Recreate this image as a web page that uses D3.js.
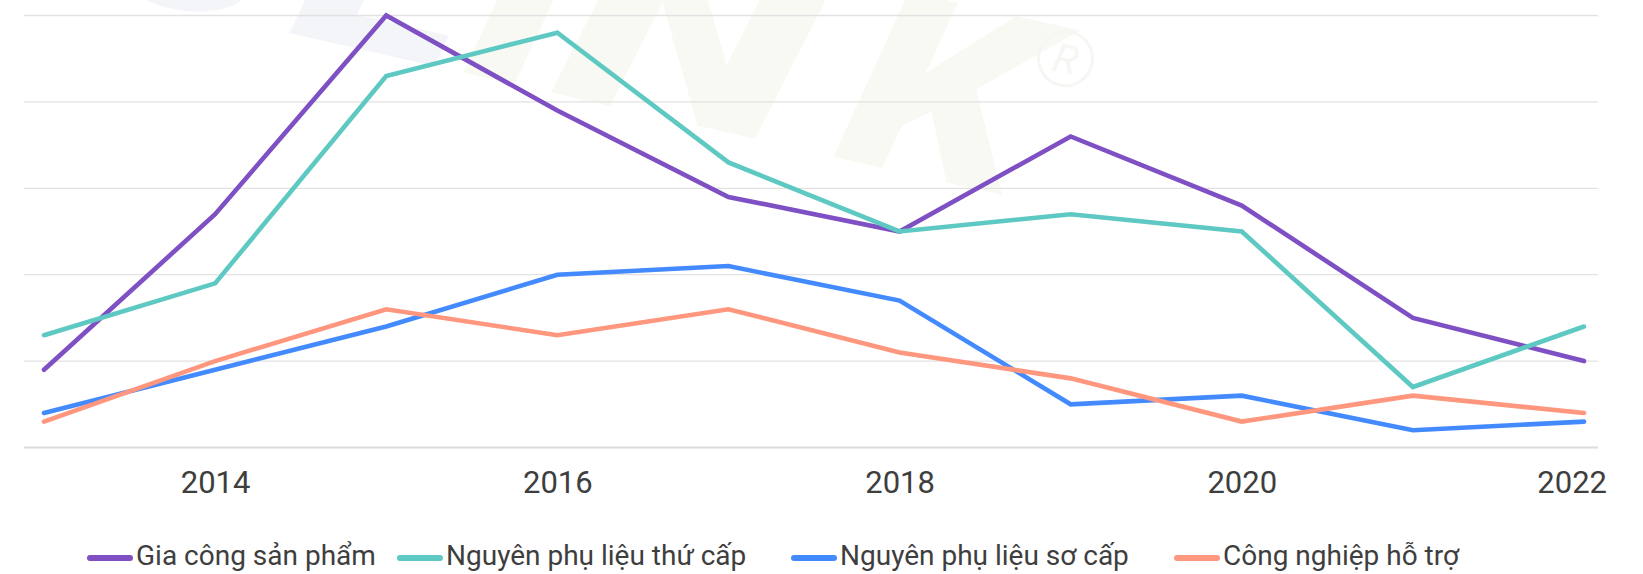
<!DOCTYPE html>
<html>
<head>
<meta charset="utf-8">
<script src="https://cdn.jsdelivr.net/npm/d3@7"></script>
<style>
  html, body { margin: 0; padding: 0; background: #ffffff; }
  svg { display: block; }
</style>
</head>
<body>
<svg id="chart" width="1643" height="574"></svg>
<script>
// Years on the x axis
const years = [2013, 2014, 2015, 2016, 2017, 2018, 2019, 2020, 2021, 2022];

// Series values
const giaCongSanPham   = [9, 27, 50, 39, 29, 25, 36, 28, 15, 10];
const nplThuCap        = [13, 19, 43, 48, 33, 25, 27, 25, 7, 14];
const nplSoCap         = [4, 9, 14, 20, 21, 17, 5, 6, 2, 3];
const congNghiepHoTro  = [3, 10, 16, 13, 16, 11, 8, 3, 6, 4];

const seriesNames  = ["Gia công sản phẩm", "Nguyên phụ liệu thứ cấp", "Nguyên phụ liệu sơ cấp", "Công nghiệp hỗ trợ"];
const seriesValues = [giaCongSanPham, nplThuCap, nplSoCap, congNghiepHoTro];
const seriesColors = ["#7e50c3", "#5ec9c2", "#448aff", "#ff967e"];

// Axis labels and gridline levels
const tickYears  = [2014, 2016, 2018, 2020, 2022];
const gridLevels = [0, 10, 20, 30, 40, 50];

// Layout
const plot = { left: 24, right: 1598, top: 15.5, bottom: 447.5 };
const firstX = 44, lastX = 1584;
const labelBaseline = 493;
const labelRightLimit = 1607;
const legendStarts = [87, 397, 791, 1174];
const legendY = 558, legendTextBaseline = 565;
const textColor = "#3e3e3e";
const fontFamily = "Roboto, 'Noto Sans', sans-serif";

const svg = d3.select("#chart");

// Faint brand watermark behind the plot
const wm = svg.append("g")
  .attr("transform", "translate(289,33) rotate(12.8)")
  .style("font-family", "Roboto, sans-serif")
  .style("font-weight", 900)
  .style("font-style", "italic")
  .style("font-size", "250px");
wm.append("text").attr("x", -200).attr("y", 0).attr("fill", "#f4f5f8").text("G");
wm.append("text").attr("x", 0).attr("y", 0).attr("fill", "#f4f5f8")
  .attr("transform", "scale(1.3,1)").text("L");
wm.append("text").attr("x", 140).attr("y", 0).attr("fill", "#f8f9f3")
  .attr("transform", "scale(1.25,1)").text("I");
wm.append("text").attr("x", 185).attr("y", 0).attr("fill", "#f8f9f3")
  .attr("transform", "scale(1.45,1)").text("N");
wm.append("text").attr("x", 465).attr("y", 0).attr("fill", "#f8f9f3")
  .attr("transform", "scale(1.2,1)").text("K");
wm.append("circle").attr("cx", 763).attr("cy", -147).attr("r", 27)
  .attr("fill", "none").attr("stroke", "#f6f7f2").attr("stroke-width", 3);
wm.append("text").attr("x", 763).attr("y", -147).attr("dy", "0.36em")
  .attr("text-anchor", "middle").attr("fill", "#f6f7f2")
  .style("font-size", "40px").style("font-weight", 400).text("R");

// Scales
const x = d3.scaleLinear().domain([years[0], years[years.length - 1]]).range([firstX, lastX]);
const y = d3.scaleLinear().domain([0, 50]).range([plot.bottom, plot.top]);

// Horizontal gridlines
svg.append("g")
  .selectAll("line")
  .data(gridLevels)
  .join("line")
  .attr("x1", plot.left)
  .attr("x2", plot.right)
  .attr("y1", d => y(d))
  .attr("y2", d => y(d))
  .attr("stroke", d => d === 0 ? "#dcdcdc" : "#e2e2e2")
  .attr("stroke-width", d => d === 0 ? 2 : 1.3);

// X axis labels
const xAxis = d3.axisBottom(x)
  .tickValues(tickYears)
  .tickFormat(d3.format("d"))
  .tickSize(0);

const axisG = svg.append("g")
  .attr("transform", `translate(0,${plot.bottom})`)
  .call(xAxis);
axisG.select(".domain").remove();
axisG.selectAll("text")
  .attr("y", labelBaseline - plot.bottom)
  .attr("dy", 0)
  .attr("fill", textColor)
  .style("font-family", fontFamily)
  .style("font-weight", 400)
  .style("font-size", "31px");
// keep the last label inside the chart area
axisG.selectAll(".tick text").each(function () {
  const b = this.getBBox();
  const tick = this.parentNode;
  const tx = +tick.getAttribute("transform").match(/translate\(([-\d.]+)/)[1];
  const right = tx + b.x + b.width;
  if (right > labelRightLimit) {
    d3.select(this).attr("x", labelRightLimit - right);
  }
});

// Lines
const line = d3.line()
  .x((d, i) => x(years[i]))
  .y(d => y(d));

svg.append("g")
  .selectAll("path")
  .data(seriesValues)
  .join("path")
  .attr("d", d => line(d))
  .attr("fill", "none")
  .attr("stroke", (d, i) => seriesColors[i])
  .attr("stroke-width", 4.6)
  .attr("stroke-linecap", "round")
  .attr("stroke-linejoin", "miter");

// Legend
const legend = svg.append("g");
const items = legend.selectAll("g")
  .data(seriesNames)
  .join("g")
  .attr("transform", (d, i) => `translate(${legendStarts[i]},0)`);
items.append("line")
  .attr("x1", 3).attr("x2", 43)
  .attr("y1", legendY).attr("y2", legendY)
  .attr("stroke", (d, i) => seriesColors[i])
  .attr("stroke-width", 6)
  .attr("stroke-linecap", "round");
items.append("text")
  .attr("x", 49)
  .attr("y", legendTextBaseline)
  .attr("fill", textColor)
  .style("font-family", fontFamily)
  .style("font-weight", 400)
  .style("font-size", "28px")
  .text(d => d);
</script>
</body>
</html>
